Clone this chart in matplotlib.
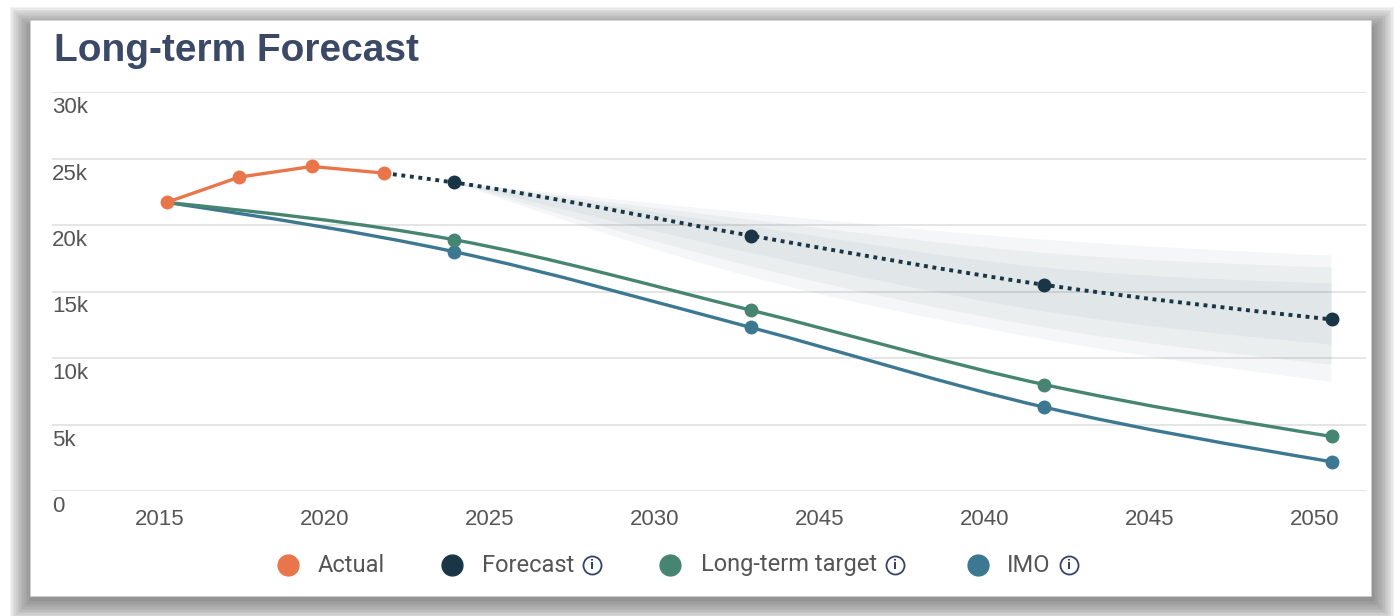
import numpy as np
import matplotlib.pyplot as plt
from matplotlib.path import Path
from matplotlib.patches import PathPatch, Rectangle
from matplotlib.lines import Line2D
import matplotlib.transforms as mtransforms

# ---- data ----
actual_x = [2015.2, 2017.4, 2019.6, 2021.8]
actual_y = [21700, 23600, 24400, 23900]

forecast_x = [2021.8, 2023.9, 2032.9, 2041.8, 2050.5]
forecast_y = [23900, 23200, 19200, 15500, 12900]

target_x = [2015.2, 2023.9, 2032.9, 2041.8, 2050.5]
target_y = [21700, 18900, 13600, 8000, 4100]

imo_x = [2015.2, 2023.9, 2032.9, 2041.8, 2050.5]
imo_y = [21700, 18000, 12300, 6300, 2200]

# uncertainty fan around the forecast (upper / lower bounds)
fan_x = [2023.9, 2032.9, 2041.8, 2050.5]
fan_outer_hi = [23200, 20900, 18900, 17700]
fan_outer_lo = [23200, 16100, 11400, 8200]
fan_mid_hi = [23200, 20400, 17900, 16800]
fan_mid_lo = [23200, 16900, 12300, 9500]
fan_in_hi = [23200, 19900, 16800, 15600]
fan_in_lo = [23200, 17900, 13500, 11000]

xticks = [2015, 2020, 2025, 2030, 2035, 2040, 2045, 2050]
xtick_labels = ["2015", "2020", "2025", "2030", "2045", "2040", "2045", "2050"]
yticks = [0, 5000, 10000, 15000, 20000, 25000, 30000]
ytick_labels = ["0", "5k", "10k", "15k", "20k", "25k", "30k"]

C_ACTUAL = "#e8764a"
C_FORECAST = "#1a3646"
C_TARGET = "#468571"
C_IMO = "#3c7891"
C_TEXT = "#555555"
C_TITLE = "#3b4966"
C_ICON = "#34426a"


def monotone_segments(x, y):
    # cubic bezier control points for a monotone-x spline (like d3 curveMonotoneX)
    x = np.asarray(x, float)
    y = np.asarray(y, float)
    n = len(x)
    h = np.diff(x)
    s = np.diff(y) / h
    t = np.zeros(n)
    for i in range(1, n - 1):
        p = (s[i - 1] * h[i] + s[i] * h[i - 1]) / (h[i - 1] + h[i])
        t[i] = (np.sign(s[i - 1]) + np.sign(s[i])) * min(abs(s[i - 1]), abs(s[i]), 0.5 * abs(p))
    if n > 2:
        t[0] = (3 * s[0] - t[1]) / 2
        t[-1] = (3 * s[-1] - t[-2]) / 2
    else:
        t[:] = s[0]
    segs = []
    for i in range(n - 1):
        segs.append(((x[i] + h[i] / 3, y[i] + t[i] * h[i] / 3),
                     (x[i + 1] - h[i] / 3, y[i + 1] - t[i + 1] * h[i] / 3),
                     (x[i + 1], y[i + 1])))
    return segs


def smooth_path(x, y):
    verts = [(x[0], y[0])]
    codes = [Path.MOVETO]
    for c1, c2, p in monotone_segments(x, y):
        verts += [c1, c2, p]
        codes += [Path.CURVE4] * 3
    return Path(verts, codes)


def band_path(x, hi, lo):
    verts = [(x[0], hi[0])]
    codes = [Path.MOVETO]
    for c1, c2, p in monotone_segments(x, hi):
        verts += [c1, c2, p]
        codes += [Path.CURVE4] * 3
    verts.append((x[-1], lo[-1]))
    codes.append(Path.LINETO)
    segs = monotone_segments(x, lo)
    for i in range(len(segs) - 1, -1, -1):
        c1, c2, p = segs[i]
        verts += [c2, c1, (x[i], lo[i])]
        codes += [Path.CURVE4] * 3
    verts.append((x[0], hi[0]))
    codes.append(Path.CLOSEPOLY)
    return Path(verts, codes)


W, H = 1400, 616
fig = plt.figure(figsize=(W / 100, H / 100), dpi=100)
fig.patch.set_facecolor("white")


def fx(px):
    return px / W


def fy(py):
    return 1 - py / H


# card shadow
for i in range(14):
    d = 1.6 * (14 - i)
    fig.patches.append(Rectangle((fx(30 - d + 2), fy(596 + d + 3)), fx(1340 + 2 * d), (570 + 2 * d) / H,
                                 transform=fig.transFigure, facecolor="#606060", alpha=0.07,
                                 edgecolor="none", zorder=0))
fig.patches.append(Rectangle((fx(30), fy(596)), fx(1341), 576 / H, transform=fig.transFigure,
                             facecolor="white", edgecolor="#d0d0d0", linewidth=0.6, zorder=1))

ax = fig.add_axes([fx(52), fy(491), fx(1366 - 52), (491 - 92) / H])
ax.set_facecolor("none")
ax.set_zorder(2)
x0 = 2015 + (52 - 160) / 33
x1 = 2015 + (1366 - 160) / 33
ax.set_xlim(x0, x1)
ax.set_ylim(0, 30000)
for sp in ax.spines.values():
    sp.set_visible(False)

for yv in yticks:
    ax.axhline(yv, color="#e3e3e3", linewidth=1.3, zorder=0)

# fan
for hi, lo in [(fan_outer_hi, fan_outer_lo), (fan_mid_hi, fan_mid_lo), (fan_in_hi, fan_in_lo)]:
    ax.add_patch(PathPatch(band_path(fan_x, hi, lo), facecolor="#1a3f4f", alpha=0.045,
                           edgecolor="none", zorder=1))

# lines
ax.add_patch(PathPatch(smooth_path(imo_x, imo_y), fill=False, edgecolor=C_IMO, linewidth=2.4, zorder=3))
ax.add_patch(PathPatch(smooth_path(target_x, target_y), fill=False, edgecolor=C_TARGET, linewidth=2.4, zorder=3))
ax.add_patch(PathPatch(smooth_path(forecast_x, forecast_y), fill=False, edgecolor=C_FORECAST,
                       linewidth=2.8, linestyle=(0, (1, 1.2)), capstyle="butt", zorder=4))
ax.plot(actual_x, actual_y, color=C_ACTUAL, linewidth=2.4, zorder=5)

ax.plot(imo_x[1:], imo_y[1:], "o", color=C_IMO, markersize=9, zorder=6)
ax.plot(target_x[1:], target_y[1:], "o", color=C_TARGET, markersize=9, zorder=6)
ax.plot(forecast_x[1:], forecast_y[1:], "o", color=C_FORECAST, markersize=9, zorder=6)
ax.plot(actual_x, actual_y, "o", color=C_ACTUAL, markersize=9, zorder=7)

ax.set_xticks(xticks)
ax.set_xticklabels(xtick_labels, fontsize=16, color=C_TEXT, family="Liberation Sans")
ax.tick_params(axis="x", length=0, pad=13)
ax.set_yticks([])

off = mtransforms.ScaledTranslation(0, -5 / 100, fig.dpi_scale_trans)
for yv, lab in zip(yticks, ytick_labels):
    ax.text(0, yv, lab, transform=ax.get_yaxis_transform() + off, ha="left", va="top",
            fontsize=16, color=C_TEXT, family="Liberation Sans")

# title
fig.text(fx(54), fy(51), "Long-term Forecast", fontsize=28, fontweight="bold", color=C_TITLE,
         family="Liberation Sans", va="center", ha="left")

# legend
leg_y = fy(565)
items = [("Actual", C_ACTUAL, 288, 318, False),
         ("Forecast", C_FORECAST, 452, 482, True),
         ("Long-term target", C_TARGET, 670, 701, True),
         ("IMO", C_IMO, 978, 1007, True)]
renderer = fig.canvas.get_renderer()
for label, col, cx, tx, info in items:
    fig.add_artist(Line2D([fx(cx)], [leg_y], marker="o", markersize=15, color=col,
                          transform=fig.transFigure, linestyle="none"))
    t = fig.text(fx(tx), leg_y, label, fontsize=17, color=C_TEXT, family="Roboto",
                 va="center", ha="left")
    if info:
        x_end = t.get_window_extent(renderer).x1
        ix = (x_end + 18) / W
        fig.add_artist(Line2D([ix], [leg_y], marker="o", markersize=13, markerfacecolor="none",
                              markeredgecolor=C_ICON, markeredgewidth=1.3,
                              transform=fig.transFigure, linestyle="none"))
        fig.text(ix, leg_y - 0.001, "i", fontsize=8.5, color=C_ICON, family="DejaVu Sans",
                 fontweight="bold", va="center", ha="center")

fig.savefig("out.png", dpi=100)
